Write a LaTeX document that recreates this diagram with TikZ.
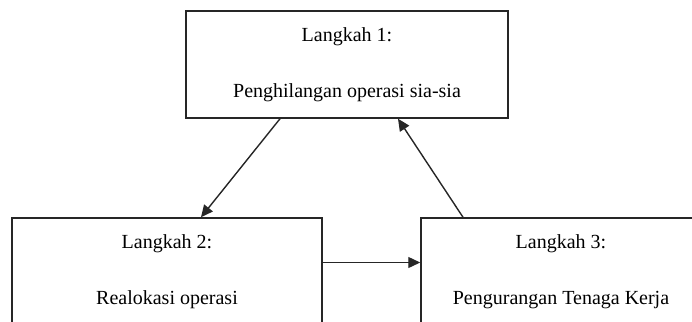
\documentclass[tikz,border=0pt]{standalone}
\usepackage{fontspec}
\setmainfont{Liberation Serif}
\usetikzlibrary{arrows.meta}
\begin{document}
\begin{tikzpicture}[x=1pt,y=-1pt,
  stepbox/.style={draw=black!85, line width=1.5pt, rectangle, minimum height=107pt,
    align=center, inner sep=0pt, font=\fontsize{20}{56}\selectfont},
  flow/.style={draw=black!85, line width=1.4pt, -{Triangle[length=12pt,width=11pt]}}]
\useasboundingbox (0,0) rectangle (692,321);
\clip (0,0) rectangle (692,321);
\node[stepbox, minimum width=322pt] (top) at (347,64.5) {Langkah 1:\\Penghilangan operasi sia-sia};
\node[stepbox, minimum width=310pt] (left) at (167,271.5) {Langkah 2:\\Realokasi operasi};
\node[stepbox, minimum width=280pt] (right) at (561,271.5) {Langkah 3:\\Pengurangan Tenaga Kerja};
\draw[flow] ([xshift=-67pt]top.south) -- ([xshift=34pt]left.north);
\draw[flow] ([xshift=-98pt]right.north) -- ([xshift=51pt]top.south);
\draw[flow] ([yshift=9pt]left.east) -- ([yshift=9pt]right.west);
\end{tikzpicture}
\end{document}
